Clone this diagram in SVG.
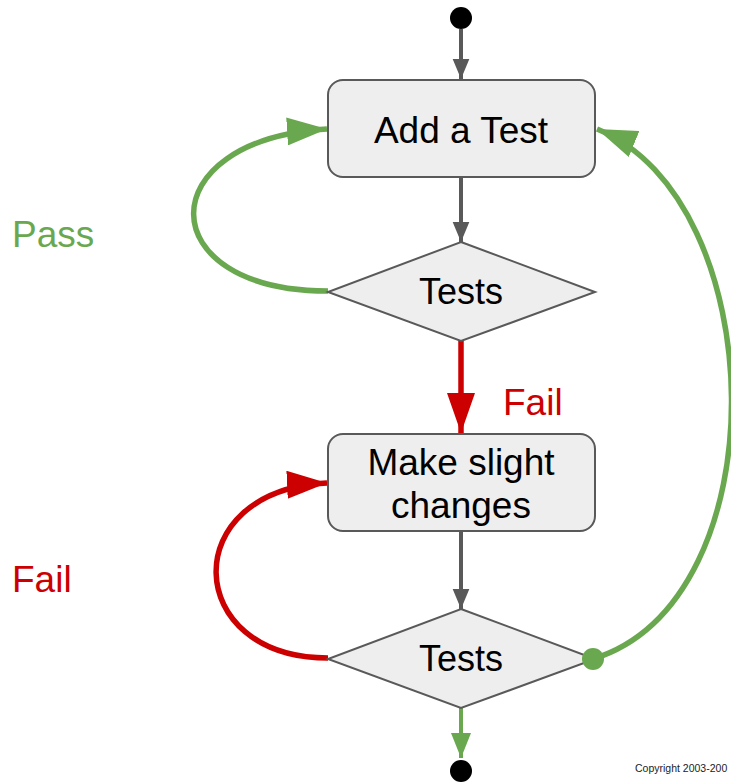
<svg xmlns="http://www.w3.org/2000/svg" width="731" height="784" viewBox="0 0 731 784">
<style>
.node{fill:#eeeeee;stroke:#595959;stroke-width:2}
.lbl{font-family:"Liberation Sans",Arial,sans-serif;font-size:36px;fill:#000;text-anchor:middle}
.side{font-family:"Liberation Sans",Arial,sans-serif;font-size:37px}
.grey{stroke:#595959;stroke-width:4;fill:none}
.green{stroke:#6aa84f;stroke-width:5.5;fill:none}
.greenthin{stroke:#6aa84f;stroke-width:4;fill:none}
.red{stroke:#cc0000;stroke-width:5.5;fill:none}
</style>
<defs>
<marker id="ag" markerUnits="userSpaceOnUse" markerWidth="20" markerHeight="20" viewBox="0 0 24 20" refX="24" refY="10" orient="auto"><path d="M0,0 L24,10 L0,20 Z" fill="#595959"/></marker>
<marker id="agr" markerUnits="userSpaceOnUse" markerWidth="40" markerHeight="28" viewBox="0 0 40 28" refX="40" refY="14" orient="auto"><path d="M0,0 L40,14 L0,28 Z" fill="#6aa84f"/></marker>
<marker id="agrs" markerUnits="userSpaceOnUse" markerWidth="25" markerHeight="20" viewBox="0 0 25 20" refX="25" refY="10" orient="auto"><path d="M0,0 L25,10 L0,20 Z" fill="#6aa84f"/></marker>
<marker id="ar" markerUnits="userSpaceOnUse" markerWidth="40" markerHeight="28" viewBox="0 0 40 28" refX="40" refY="14" orient="auto"><path d="M0,0 L40,14 L0,28 Z" fill="#cc0000"/></marker>
</defs>
<g id="connectors">
<path class="grey" d="M461,29 L461,79" marker-end="url(#ag)"/>
<path class="grey" d="M461,178 L461,242" marker-end="url(#ag)"/>
<path class="red" d="M461,341 L461,433" marker-end="url(#ar)"/>
<path class="grey" d="M461,532 L461,609" marker-end="url(#ag)"/>
<path class="greenthin" d="M461,708 L461,758" marker-end="url(#agrs)"/>
<path class="green" d="M328,291 C150,291 148,140 327,129" marker-end="url(#agr)"/>
<path class="red" d="M328,658 C182,658 176,490 327,483" marker-end="url(#ar)"/>
<path class="green" d="M593,659 C782,600 772,200 597,129" marker-end="url(#agr)"/>
</g>
<g id="start"><circle cx="461" cy="18" r="11" fill="#000"/></g>
<g id="add-test">
<rect class="node" x="328" y="80" width="267" height="97" rx="15"/>
<text class="lbl" x="461" y="143" style="font-size:37px">Add a Test</text>
</g>
<g id="tests1">
<polygon class="node" points="461,242 595,292 461,341 328,292"/>
<text class="lbl" x="461" y="304">Tests</text>
</g>
<g id="make-changes">
<rect class="node" x="328" y="434" width="267" height="97" rx="15"/>
<text class="lbl" x="461" y="475" style="font-size:37px">Make slight</text>
<text class="lbl" x="461" y="518" style="font-size:37px">changes</text>
</g>
<g id="tests2">
<polygon class="node" points="461,609 595,659 461,708 328,659"/>
<text class="lbl" x="461" y="671">Tests</text>
</g>
<g id="end"><circle cx="461" cy="771" r="11" fill="#000"/></g>
<g id="green-dot"><circle cx="593" cy="659" r="11" fill="#6aa84f"/></g>
<g id="labels">
<text class="side" x="12" y="247" fill="#6aa84f">Pass</text>
<text class="side" x="503" y="415" fill="#cc0000">Fail</text>
<text class="side" x="12" y="592" fill="#cc0000">Fail</text>
<text x="635" y="772" font-family="Liberation Sans,Arial,sans-serif" font-size="10.5" fill="#222">Copyright 2003-200</text>
</g>
</svg>
